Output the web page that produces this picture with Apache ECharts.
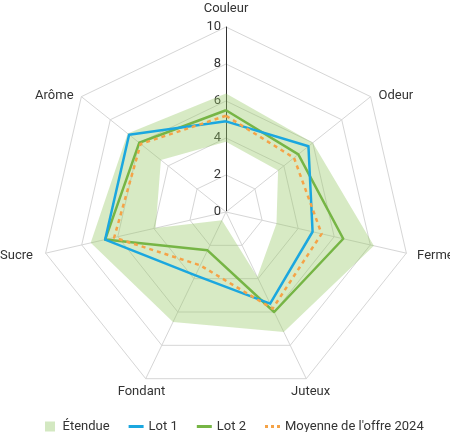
<!DOCTYPE html>
<html>
<head>
<meta charset="utf-8">
<script src="https://cdn.jsdelivr.net/npm/echarts@6/dist/echarts.min.js"></script>
<style>html,body{margin:0;padding:0;background:#fff;}#c{width:450px;height:432px;}</style>
</head>
<body>
<div id="c"></div>
<script>
// Indicators listed counter-clockwise from the top (ECharts radar order)
const categories = ['Couleur', 'Arôme', 'Sucre', 'Fondant', 'Juteux', 'Ferme', 'Odeur'];
const lot1 = [4.9, 6.7, 6.7, 3.8, 5.5, 4.8, 5.7];
const lot2 = [5.5, 6.0, 6.7, 2.3, 6.0, 6.5, 5.0];
const moyenne = [5.2, 5.9, 6.2, 3.2, 5.8, 5.3, 4.7];
const etendueMax = [6.4, 6.8, 7.5, 6.6, 7.2, 8.2, 6.0];
const etendueMin = [3.8, 4.5, 3.9, 0.5, 3.9, 2.8, 3.6];
const axisTicks = [0, 2, 4, 6, 8, 10];

const FONT = 'Roboto';
const C_LOT1 = '#1ba7df';
const C_LOT2 = '#76b545';
const C_MOY = '#f5a347';
const C_BAND = 'rgba(150,200,100,0.38)';
const CENTER = [226, 212];
const RADIUS = 185;

// label placement per indicator (style only)
const nameStyleKey = { 'Couleur': 'top', 'Arôme': 'up', 'Sucre': 'left', 'Fondant': 'down', 'Juteux': 'down', 'Ferme': 'right', 'Odeur': 'up' };
const baseText = { color: '#333', fontSize: 13, fontFamily: FONT };

const indicator = categories.map((n, i) => {
  const o = { name: n, min: axisTicks[0], max: axisTicks[axisTicks.length - 1] };
  if (nameStyleKey[n] === 'down') o.nameTextStyle = { align: 'center' };
  if (i === 0) {
    o.axisLine = { show: true, lineStyle: { color: '#333', width: 1 } };
    o.axisLabel = { show: true, color: '#333', fontSize: 13, fontFamily: FONT, margin: 5 };
  }
  return o;
});

const chart = echarts.init(document.getElementById('c'), null, { renderer: 'canvas' });
chart.setOption({
  animation: false,
  backgroundColor: '#fff',
  radar: {
    center: CENTER,
    radius: RADIUS,
    startAngle: 90,
    shape: 'polygon',
    splitNumber: axisTicks.length - 1,
    indicator: indicator,
    axisName: Object.assign({}, baseText, {
      formatter: function (name) { return '{' + nameStyleKey[name] + '|' + name + '}'; },
      rich: {
        top: Object.assign({ padding: [0, 0, 2, 0] }, baseText),
        up: Object.assign({ padding: [10, 0, 0, 0] }, baseText),
        down: Object.assign({ padding: [9, 0, 0, 0] }, baseText),
        left: Object.assign({ padding: [0, 3, 0, 0] }, baseText),
        right: Object.assign({ padding: [0, 0, 0, 1] }, baseText)
      }
    }),
    nameGap: 10,
    axisLine: { lineStyle: { color: '#d6d6d6', width: 1 } },
    splitLine: { lineStyle: { color: '#d6d6d6', width: 1 } },
    splitArea: { show: false },
    axisTick: { show: false },
    axisLabel: { show: false }
  },
  polar: { center: CENTER, radius: RADIUS },
  angleAxis: { type: 'value', min: 0, max: categories.length, startAngle: 90, clockwise: false, show: false },
  radiusAxis: { type: 'value', min: axisTicks[0], max: axisTicks[axisTicks.length - 1], show: false },
  legend: {
    top: 415,
    left: 40,
    itemWidth: 15,
    itemHeight: 10,
    itemGap: 19,
    textStyle: { color: '#333', fontSize: 13, fontFamily: FONT },
    data: [
      { name: 'Étendue', icon: 'path://M0,0H10V10H0Z', itemStyle: { color: '#d3e8c1', borderWidth: 0 } },
      { name: 'Lot 1', icon: 'path://M0,0H15V3H0Z', itemStyle: { color: C_LOT1, borderWidth: 0 } },
      { name: 'Lot 2', icon: 'path://M0,0H15V3H0Z', itemStyle: { color: C_LOT2, borderWidth: 0 } },
      { name: "Moyenne de l'offre 2024", icon: 'path://M0,0H3V3H0Z M6,0H9V3H6Z M12,0H15V3H12Z', itemStyle: { color: C_MOY, borderWidth: 0 } }
    ]
  },
  series: [
    {
      name: 'Étendue',
      type: 'custom',
      coordinateSystem: 'polar',
      z: 1,
      silent: true,
      data: [[0, 0]],
      itemStyle: { color: C_BAND },
      renderItem: function (params, api) {
        const pts = [];
        for (let i = 0; i < categories.length; i++) pts.push(api.coord([etendueMax[i], i]));
        pts.push(api.coord([etendueMax[0], 0]));
        pts.push(api.coord([etendueMin[0], 0]));
        for (let i = categories.length - 1; i >= 0; i--) pts.push(api.coord([etendueMin[i], i]));
        return { type: 'polygon', shape: { points: pts }, style: { fill: C_BAND, stroke: null } };
      }
    },
    {
      name: 'Profils',
      type: 'radar',
      z: 3,
      symbol: 'none',
      data: [
        { name: 'Lot 2', value: lot2, lineStyle: { color: C_LOT2, width: 2.5 }, itemStyle: { color: C_LOT2 } },
        { name: 'Lot 1', value: lot1, lineStyle: { color: C_LOT1, width: 2.5 }, itemStyle: { color: C_LOT1 } },
        { name: "Moyenne de l'offre 2024", value: moyenne, lineStyle: { color: C_MOY, width: 2.5, type: [4, 4] }, itemStyle: { color: C_MOY } }
      ]
    }
  ]
});
</script>
</body>
</html>
